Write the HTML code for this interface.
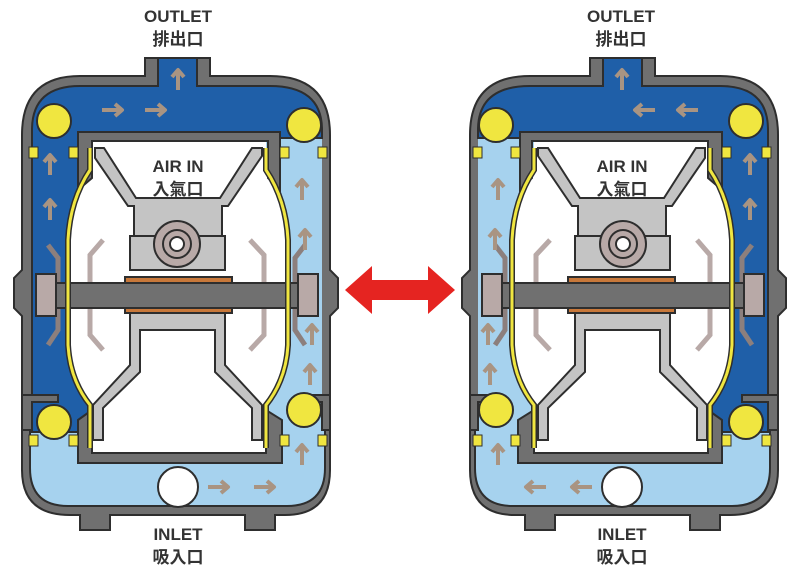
<!DOCTYPE html>
<html><head><meta charset="utf-8"><style>
html,body{margin:0;padding:0;background:#fff;width:800px;height:576px;overflow:hidden}
svg{display:block}
text{font-family:"Liberation Sans","Noto Sans CJK TC",sans-serif;font-weight:bold;fill:#333;text-anchor:middle}
</style></head><body>
<svg width="800" height="576" viewBox="0 0 800 576" xmlns="http://www.w3.org/2000/svg">
<defs>
<g id="au"><path d="M0,10 V-9 M-6,-3 L0,-10 L6,-3" fill="none" stroke="#a99482" stroke-width="4" stroke-linejoin="round"/></g>
<g id="pump" stroke="#2e2e2e" stroke-width="2">
  <path d="M145,58 H210 V76 H270 Q330,76 330,135 V270 L338,278 V308 L330,316 V470 Q330,515 285,515 H275 V530 H245 V515 H110 V530 H80 V515 H70 Q22,515 22,470 V316 L14,308 V278 L22,270 V135 Q22,76 80,76 H145 Z" fill="#707070"/>
  <path d="M30,430 H325 V468 Q325,506 287,506 H68 Q30,506 30,468 Z" fill="#a6d2ee"/>
  <rect x="178" y="130" width="144" height="302" fill="#a6d2ee" stroke="none"/>
  <path d="M158,58 H197 V86 H270 Q322,86 322,130 V138 H178 V432 H32 V130 Q32,86 80,86 H158 Z" fill="#1f5fa8"/>
  <path d="M22,395 H58 V402 H32 V430 H22 Z M330,395 H298 V402 H322 V430 H330 Z" fill="#707070"/>
  <path d="M90,141 V170 Q70,200 68,240 V345 Q70,380 90,405 V453 H266 V405 Q286,380 288,345 V240 Q286,200 266,170 V141 Z" fill="#fff" stroke="none"/>
  <path d="M78,132 H280 V190 L268,178 V141 H92 V178 L78,190 Z" fill="#707070"/>
  <path d="M78,420 L92,410 V453 H266 V410 L282,420 V463 H78 Z" fill="#707070"/>
  <path d="M95,148 H104 L136,198 H220 L252,148 H262 V156 L228,206 H222 V268 H134 V206 H128 L95,158 Z" fill="#c4c4c4"/>
  <rect x="130" y="236" width="95" height="34" fill="#c4c4c4"/>
  <circle cx="177" cy="244" r="23" fill="#b8a9a7"/>
  <circle cx="177" cy="244" r="14" fill="#b8a9a7"/>
  <circle cx="177" cy="244" r="7" fill="#fff"/>
  <path d="M130,313 H225 V365 L262,405 V440 H252 V408 L215,372 V330 H140 V372 L103,408 V440 H93 V405 L130,365 Z" fill="#c4c4c4"/>
  <path d="M48,245 L58,258 V330 L48,345 M305,245 L295,258 V330 L305,345" fill="none" stroke="#8c7f7d" stroke-width="5"/>
  <path d="M103,240 L90,255 V335 L103,350 M250,240 L264,255 V335 L250,350" fill="none" stroke="#b8a9a7" stroke-width="5"/>
  <rect x="125" y="277" width="107" height="36" fill="#c8783a"/>
  <rect x="40" y="283" width="276" height="25" fill="#707070"/>
  <rect x="36" y="274" width="20" height="42" fill="#b8a9a7"/>
  <rect x="298" y="274" width="20" height="42" fill="#b8a9a7"/>
  <path d="M90,148 V170 Q70,200 68,240 V345 Q70,380 90,405 V448 M266,148 V170 Q286,200 288,240 V345 Q286,380 266,405 V448" fill="none" stroke="#2e2e2e" stroke-width="6"/>
  <path d="M90,148 V170 Q70,200 68,240 V345 Q70,380 90,405 V448 M266,148 V170 Q286,200 288,240 V345 Q286,380 266,405 V448" fill="none" stroke="#f0e640" stroke-width="3"/>
  <rect x="29" y="147" width="9" height="11" fill="#f0e640" stroke-width="1"/>
  <rect x="69" y="147" width="9" height="11" fill="#f0e640" stroke-width="1"/>
  <rect x="280" y="147" width="9" height="11" fill="#f0e640" stroke-width="1"/>
  <rect x="318" y="147" width="9" height="11" fill="#f0e640" stroke-width="1"/>
  <rect x="29" y="435" width="9" height="11" fill="#f0e640" stroke-width="1"/>
  <rect x="69" y="435" width="9" height="11" fill="#f0e640" stroke-width="1"/>
  <rect x="280" y="435" width="9" height="11" fill="#f0e640" stroke-width="1"/>
  <rect x="318" y="435" width="9" height="11" fill="#f0e640" stroke-width="1"/>
  <circle cx="54" cy="121" r="17" fill="#f0e640"/>
  <circle cx="304" cy="125" r="17" fill="#f0e640"/>
  <circle cx="54" cy="422" r="17" fill="#f0e640"/>
  <circle cx="304" cy="410" r="17" fill="#f0e640"/>
  <circle cx="178" cy="487" r="20" fill="#fff"/>
  <g stroke="none">
  <use href="#au" transform="translate(178,80)"/>
  <use href="#au" transform="translate(112,110) rotate(90)"/>
  <use href="#au" transform="translate(155,110) rotate(90)"/>
  <use href="#au" transform="translate(50,165)"/>
  <use href="#au" transform="translate(50,210)"/>
  <use href="#au" transform="translate(302,190)"/>
  <use href="#au" transform="translate(305,240)"/>
  <use href="#au" transform="translate(312,335)"/>
  <use href="#au" transform="translate(310,375)"/>
  <use href="#au" transform="translate(302,455)"/>
  <use href="#au" transform="translate(218,487) rotate(90)"/>
  <use href="#au" transform="translate(264,487) rotate(90)"/>
  </g>
</g>
</defs>
<use href="#pump"/>
<use href="#pump" transform="translate(800,0) scale(-1,1)"/>
<path d="M345,290 L372,266 V280 H428 V266 L455,290 L428,314 V300 H372 V314 Z" fill="#e52421"/>
<g font-size="17">
<text x="178" y="22">OUTLET</text><text x="178" y="45">排出口</text>
<text x="178" y="172">AIR IN</text><text x="178" y="195">入氣口</text>
<text x="178" y="540">INLET</text><text x="178" y="563">吸入口</text>
<text x="621" y="22">OUTLET</text><text x="621" y="45">排出口</text>
<text x="622" y="172">AIR IN</text><text x="622" y="195">入氣口</text>
<text x="622" y="540">INLET</text><text x="622" y="563">吸入口</text>
</g>
</svg>
</body></html>
